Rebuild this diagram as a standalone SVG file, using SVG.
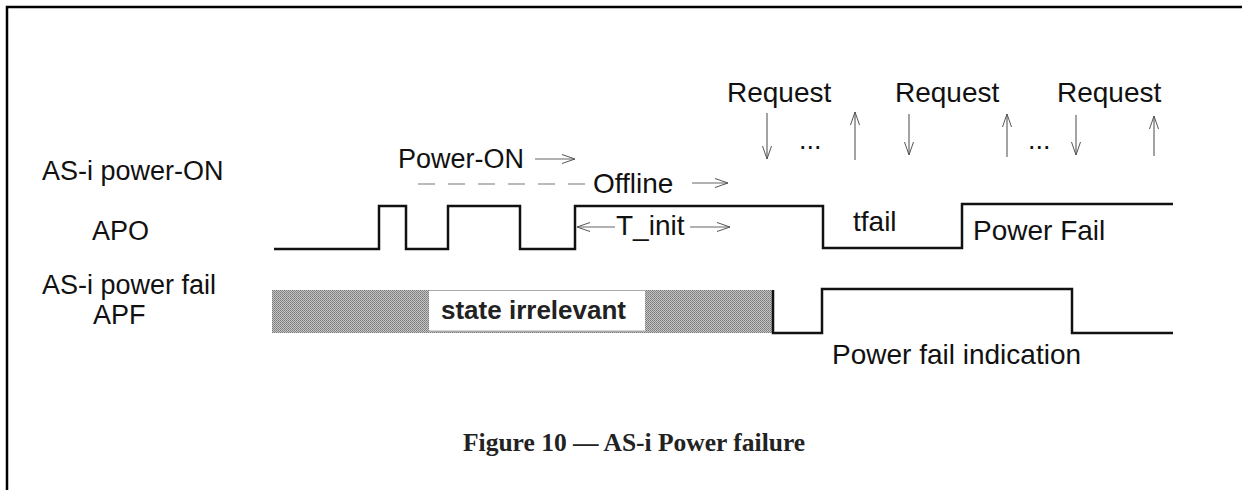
<svg xmlns="http://www.w3.org/2000/svg" width="1242" height="490" viewBox="0 0 1242 490">
<style>
.lbl{font-family:"Liberation Sans",Arial,sans-serif;font-size:27px;fill:#111}
.sml{font-family:"Liberation Sans",Arial,sans-serif;font-size:28px;fill:#111}
.bold{font-family:"Liberation Sans",Arial,sans-serif;font-size:26px;font-weight:bold;fill:#222}
.title{font-family:"Liberation Serif","Times New Roman",serif;font-size:25.5px;font-weight:bold;fill:#222}
.wave{fill:none;stroke:#111;stroke-width:2.5;stroke-linejoin:miter}
.arr{fill:none;stroke:#666;stroke-width:1.2}
.dash{fill:none;stroke:#777;stroke-width:1.2;stroke-dasharray:17 13}
.frame{fill:none;stroke:#000;stroke-width:2.5}
</style>
<defs>
<marker id="ah" viewBox="0 0 14 10" refX="13" refY="5" markerWidth="14" markerHeight="10" orient="auto" markerUnits="userSpaceOnUse">
<path d="M0,0.5 L13,5 L0,9.5" fill="none" stroke="#555" stroke-width="1"/>
</marker>
<pattern id="dither" width="2" height="2" patternUnits="userSpaceOnUse">
<rect width="2" height="2" fill="#c4c4c4"/>
<rect width="1" height="1" fill="#7a7a7a"/>
<rect x="1" y="1" width="1" height="1" fill="#8a8a8a"/>
</pattern>
</defs>
<rect width="1242" height="490" fill="#fff"/>
<g id="frame">
<path class="frame" d="M7,490 V7 H1242"/>
</g>
<g id="signal-labels">
<text class="lbl" x="42" y="180">AS-i power-ON</text>
<text class="lbl" x="92" y="240">APO</text>
<text class="lbl" x="42" y="294">AS-i power fail</text>
<text class="lbl" x="93" y="324">APF</text>
</g>
<g id="request-labels">
<text class="sml" x="727" y="102">Request</text>
<text class="sml" x="895" y="102">Request</text>
<text class="sml" x="1057" y="102">Request</text>
<text class="lbl" x="799" y="149" font-size="23">...</text>
<text class="lbl" x="1028" y="149" font-size="23">...</text>
</g>
<g id="apo">
<path class="wave" d="M274,249 H379 V206 H406 V249 H448 V206 H520 V249 H575 V206 H823 V248 H962 V204 H1173"/>
<text class="lbl" x="398" y="168">Power-ON</text>
<text class="sml" x="593" y="193">Offline</text>
<text class="sml" x="616" y="235">T_init</text>
<text class="sml" x="853" y="231">tfail</text>
<text class="sml" x="973" y="240">Power Fail</text>
</g>
<g id="apf">
<rect x="272" y="290" width="501" height="43" fill="url(#dither)"/>
<rect x="429" y="290" width="216" height="41" fill="#fff"/>
<path d="M429,290.5 H645 M429,331 H645" stroke="#aaa" stroke-width="1" fill="none"/>
<text class="bold" x="441" y="319">state irrelevant</text>
<path class="wave" d="M773,290 V333 H822 V289 H1072 V333 H1173"/>
<text class="sml" x="832" y="364">Power fail indication</text>
</g>
<g id="connectors">
<line class="arr" x1="535" y1="159" x2="575" y2="159" marker-end="url(#ah)"/>
<line class="dash" x1="418" y1="184" x2="586" y2="184"/>
<line class="arr" x1="692" y1="183" x2="728" y2="183" marker-end="url(#ah)"/>
<line class="arr" x1="615" y1="227" x2="577" y2="227" marker-end="url(#ah)"/>
<line class="arr" x1="690" y1="227" x2="730" y2="227" marker-end="url(#ah)"/>
<line class="arr" x1="767" y1="113" x2="767" y2="159" marker-end="url(#ah)"/>
<line class="arr" x1="855" y1="160" x2="855" y2="112" marker-end="url(#ah)"/>
<line class="arr" x1="909" y1="114" x2="909" y2="155" marker-end="url(#ah)"/>
<line class="arr" x1="1007" y1="157" x2="1007" y2="114" marker-end="url(#ah)"/>
<line class="arr" x1="1076" y1="115" x2="1076" y2="155" marker-end="url(#ah)"/>
<line class="arr" x1="1154" y1="156" x2="1154" y2="116" marker-end="url(#ah)"/>
</g>
<g id="caption">
<text class="title" x="463" y="451">Figure 10 — AS-i Power failure</text>
</g>
</svg>
